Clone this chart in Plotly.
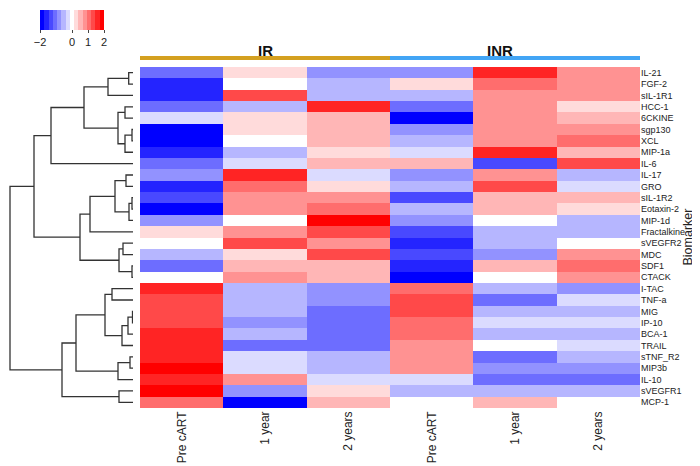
import plotly.graph_objects as go

W, H = 700, 466

biomarkers = ['IL-21', 'FGF-2', 'sIL-1R1', 'HCC-1', '6CKINE', 'sgp130', 'XCL', 'MIP-1a', 'IL-6',
              'IL-17', 'GRO', 'sIL-1R2', 'Eotaxin-2', 'MIP-1d', 'Fractalkine', 'sVEGFR2', 'MDC',
              'SDF1', 'CTACK', 'I-TAC', 'TNF-a', 'MIG', 'IP-10', 'BCA-1', 'TRAIL', 'sTNF_R2',
              'MIP3b', 'IL-10', 'sVEGFR1', 'MCP-1']
timepoints = ['Pre cART', '1 year', '2 years', 'Pre cART', '1 year', '2 years']
groups = ['IR', 'INR']

# scaled values (z-scores) per column, rows in the order of biomarkers
ir_pre = [-1.07, -1.6, -1.6, -1.07, -0.27, -1.87, -1.87, -1.6, -1.07, -0.8, -1.6, -1.33, -1.87, -0.8, 0.27,
          0, -0.53, -1.07, 0, 1.6, 1.33, 1.33, 1.33, 1.6, 1.6, 1.6, 1.87, 1.6, 1.87, 1.07]
ir_1y = [0.27, 0, 1.33, -0.53, 0.27, 0.27, 0, -0.53, -0.27, 1.6, 1.07, 0.8, 0.8, 0, 0.8,
         1.33, 0.27, 0.53, 0.8, -0.53, -0.53, -0.53, -0.8, -0.53, -1.07, -0.27, -0.27, 0.8, -0.8, -1.87]
ir_2y = [-0.8, -0.53, -0.53, 1.6, 0.53, 0.53, 0.53, 0.27, 0.53, -0.27, 0.27, 0.8, 1.07, 1.87, 1.33,
         0.8, 1.33, 0.53, 0.53, -0.8, -0.8, -1.07, -1.07, -1.07, -1.07, -0.53, -0.53, -0.27, 0.27, 0.53]
inr_pre = [-0.8, 0.27, -0.53, -1.07, -1.87, -0.8, -0.53, -0.27, 0.53, -0.8, -0.53, -1.33, -0.53, -0.8, -1.33,
           -1.6, -1.33, -1.6, -1.87, 1.07, 1.33, 1.33, 1.07, 1.07, 0.8, 0.8, 0.8, -0.27, -0.53, 0]
inr_1y = [1.6, 1.07, 0.8, 0.8, 0.8, 0.8, 0.8, 1.6, -1.33, 0.8, 1.33, 0.53, 0.53, 0, -0.53,
          -0.53, -0.8, 0.53, 0, -0.53, -1.07, -0.53, -0.27, -0.53, 0, -1.07, -0.8, -1.07, -0.53, 0.53]
inr_2y = [0.8, 0.8, 0.8, 0.27, 0.53, 0.8, 1.07, 0.53, 1.33, -0.53, -0.27, 0.53, 0.27, -0.53, -0.53,
          0, 0.8, 1.07, 0.8, -0.8, -0.27, -0.53, -0.27, -0.53, -0.27, -0.53, -0.8, -1.07, -0.53, 0]

# row dendrogram: (left, right, merge height); new nodes numbered from 30
links = [(0, 1, 4.3), (30, 2, 25), (3, 4, 8), (5, 6, 1), (33, 7, 8), (32, 34, 15), (31, 35, 49),
         (36, 8, 82), (9, 10, 7), (11, 12, 1), (39, 13, 4), (38, 40, 18), (41, 14, 43), (15, 16, 10),
         (17, 18, 1), (43, 44, 14), (42, 45, 53), (37, 46, 99), (19, 20, 21), (21, 22, 0.5), (49, 23, 5),
         (50, 24, 11), (48, 51, 28), (25, 26, 3), (53, 27, 15), (52, 54, 57), (28, 29, 14), (55, 56, 71),
         (47, 57, 123)]

cols = [ir_pre, ir_1y, ir_2y, inr_pre, inr_1y, inr_2y]
z = [[c[i] for c in cols] for i in range(len(biomarkers))]

# stepped blue-white-red scale, 15 bins between -2 and 2
nb = 15
cscale = []
for k in range(nb):
    lvl = k - 7
    f = int(round(255 * (7 - abs(lvl)) / 7))
    col = f'rgb({f},{f},255)' if lvl < 0 else f'rgb(255,{f},{f})'
    cscale.append([k / nb, col])
    cscale.append([(k + 1) / nb, col])

# dendrogram segments
pos = {i: i for i in range(len(biomarkers))}
hgt = {i: 0 for i in range(len(biomarkers))}
dx, dy = [], []
for n, (a, b, h) in enumerate(links):
    nid = len(biomarkers) + n
    dx += [hgt[a], h, h, hgt[b], None]
    dy += [pos[a], pos[a], pos[b], pos[b], None]
    pos[nid] = (pos[a] + pos[b]) / 2
    hgt[nid] = h

fig = go.Figure()
fig.add_trace(go.Scatter(x=dx, y=dy, mode='lines', xaxis='x', yaxis='y',
                         line=dict(color='#333333', width=1.3), hoverinfo='skip', showlegend=False))
fig.add_trace(go.Heatmap(z=z, x=list(range(6)), y=list(range(len(biomarkers))), xaxis='x2', yaxis='y',
                         zmin=-2, zmax=2, colorscale=cscale,
                         colorbar=dict(orientation='h', lenmode='pixels', len=64, thickness=20,
                                       x=64 / W, xanchor='center', y=1 - 2 / H, yanchor='top',
                                       xpad=0, ypad=0, outlinewidth=0,
                                       tickvals=[-2, 0, 1, 2], ticks='outside', ticklen=3,
                                       tickcolor='#444', tickfont=dict(size=11, color='#222'))))

y_bot, y_top = 400, 59
ydom = [(H - y_bot) / H, (H - y_top) / H]
hx0, hx1 = 132, 632

fig.update_layout(
    width=W, height=H, margin=dict(l=0, r=0, t=0, b=0),
    paper_bgcolor='white', plot_bgcolor='white',
    font=dict(family='Liberation Sans, Arial, sans-serif', color='#222'),
    xaxis=dict(domain=[0, 125 / W], range=[125, 0], visible=False, anchor='y'),
    xaxis2=dict(domain=[hx0 / W, hx1 / W], range=[-0.5, 5.5], anchor='y',
                tickvals=list(range(6)), ticktext=timepoints, tickangle=-90,
                tickfont=dict(size=12, color='#222'), showgrid=False, zeroline=False, ticks=''),
    yaxis=dict(domain=ydom, range=[len(biomarkers) - 0.5, -0.5], anchor='x2', side='right',
               tickvals=list(range(len(biomarkers))), ticktext=biomarkers,
               tickfont=dict(size=9, color='#222'), showgrid=False, zeroline=False, ticks=''),
)

# group bars and labels
gy = 1 - 50 / H
mid = (hx0 + hx1) / 2
for (x0, x1), name, color in [((hx0, mid), groups[0], '#D4A020'), ((mid, hx1), groups[1], '#42A5F5')]:
    fig.add_shape(type='line', xref='paper', yref='paper', x0=x0 / W, x1=x1 / W, y0=gy, y1=gy,
                  line=dict(color=color, width=4))
    fig.add_annotation(x=(x0 + x1) / 2 / W, y=1 - 32 / H, xref='paper', yref='paper', text=f'<b>{name}</b>',
                       showarrow=False, font=dict(size=15, color='#111'))

fig.add_annotation(x=688 / W, y=(ydom[0] + ydom[1]) / 2, xref='paper', yref='paper', text='Biomarker',
                   textangle=-90, showarrow=False, font=dict(size=12.5, color='#222'))

fig.write_html("out.html")
